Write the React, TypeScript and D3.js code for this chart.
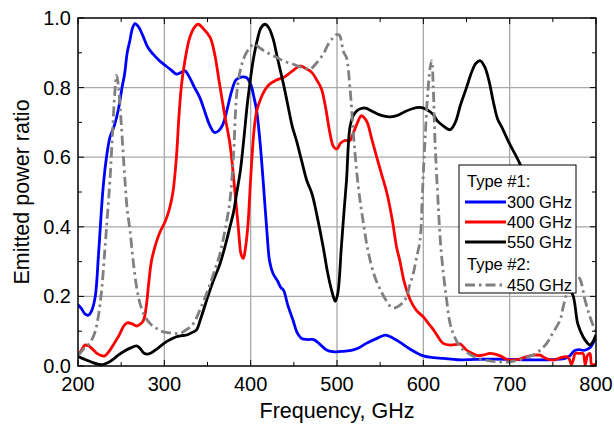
import * as d3 from 'd3';

// emitted power ratio vs frequency (GHz)
const s300: [number, number][] = [
  [200, 0.176], [204, 0.165], [208, 0.15], [212, 0.146], [216, 0.16], [220, 0.2], [224, 0.33], [229, 0.51],
  [233, 0.6], [237, 0.657], [242, 0.69], [247, 0.74], [251, 0.8], [254, 0.84], [257, 0.9], [260, 0.934],
  [263, 0.97], [266, 0.984], [270, 0.975], [275, 0.95], [281, 0.915], [287, 0.896], [294, 0.878], [302, 0.862],
  [308, 0.85], [314, 0.839], [319, 0.843], [324, 0.848], [329, 0.83], [335, 0.8], [341, 0.772], [347, 0.73],
  [352, 0.695], [358, 0.671], [363, 0.676], [368, 0.695], [373, 0.74], [378, 0.79], [383, 0.822], [389, 0.83],
  [395, 0.829], [400, 0.81], [404, 0.77], [407, 0.733], [411, 0.64], [415, 0.514], [419, 0.38], [422, 0.3],
  [426, 0.265], [431, 0.245], [435, 0.225], [438, 0.218], [443, 0.175], [449, 0.132], [454, 0.095], [459, 0.079],
  [466, 0.076], [473, 0.076], [480, 0.063], [488, 0.046], [495, 0.041], [505, 0.042], [515, 0.044], [525, 0.052],
  [534, 0.065], [545, 0.078], [556, 0.089], [565, 0.08], [573, 0.068], [585, 0.048], [600, 0.029], [612, 0.024],
  [623, 0.022], [640, 0.018], [660, 0.019], [680, 0.02], [700, 0.019], [720, 0.018], [745, 0.018], [764, 0.022],
  [770, 0.03], [775, 0.044], [780, 0.047], [786, 0.045], [790, 0.048], [794, 0.055], [797, 0.068], [800, 0.085],
];

const s400: [number, number][] = [
  [200, 0.03], [204, 0.045], [208, 0.06], [212, 0.058], [217, 0.048], [222, 0.036], [227, 0.03], [231, 0.029],
  [236, 0.042], [242, 0.065], [248, 0.09], [253, 0.115], [257, 0.124], [262, 0.122], [268, 0.115], [272, 0.12],
  [276, 0.132], [279, 0.17], [282, 0.24], [285, 0.3], [290, 0.35], [295, 0.385], [301, 0.415], [306, 0.452],
  [310, 0.5], [314, 0.6], [317, 0.72], [320, 0.81], [324, 0.88], [329, 0.94], [334, 0.97], [339, 0.982],
  [345, 0.97], [353, 0.944], [358, 0.9], [364, 0.81], [370, 0.72], [376, 0.638], [382, 0.495], [386, 0.39],
  [389, 0.32], [391.5, 0.309], [394, 0.34], [397, 0.41], [399, 0.495], [401, 0.58], [404, 0.68], [407, 0.733],
  [412, 0.77], [417, 0.795], [422, 0.81], [430, 0.822], [438, 0.829], [447, 0.845], [457, 0.862], [464, 0.855],
  [471, 0.843], [477, 0.82], [482, 0.796], [487, 0.74], [492, 0.667], [496, 0.63], [500, 0.624], [504, 0.64],
  [509, 0.648], [515, 0.648], [519, 0.67], [523, 0.695], [528, 0.719], [531, 0.715], [535, 0.7], [540, 0.655],
  [546, 0.6], [552, 0.548], [558, 0.495], [564, 0.42], [569, 0.342], [573, 0.3], [578, 0.24], [585, 0.189],
  [592, 0.16], [600, 0.141], [606, 0.122], [612, 0.103], [618, 0.08], [623, 0.065], [631, 0.06], [639, 0.062],
  [643, 0.063], [650, 0.046], [657, 0.036], [663, 0.03], [670, 0.032], [677, 0.036], [683, 0.034], [689, 0.029],
  [695, 0.021], [700, 0.017], [710, 0.019], [720, 0.027], [728, 0.031], [735, 0.031], [742, 0.022], [750, 0.017],
  [758, 0.023], [766, 0.027], [769, 0.02], [771.5, 0.004], [774, 0.02], [776, 0.036], [781, 0.036], [785, 0.036],
  [787.5, 0.004], [790, 0.03], [793, 0.036], [795, 0.004], [798, 0.004], [800, 0.004],
];

const s550: [number, number][] = [
  [200, 0.027], [205, 0.022], [211, 0.016], [218, 0.009], [224, 0.005], [229, 0.004], [235, 0.01], [241, 0.02],
  [247, 0.032], [254, 0.043], [261, 0.052], [268, 0.058], [272, 0.05], [276, 0.038], [280, 0.034], [285, 0.038],
  [292, 0.05], [300, 0.066], [307, 0.076], [314, 0.084], [320, 0.087], [326, 0.089], [331, 0.095], [337, 0.103],
  [342, 0.135], [349, 0.189], [356, 0.24], [364.5, 0.294], [371, 0.35], [376, 0.4], [380, 0.44], [384, 0.5],
  [388, 0.56], [392, 0.65], [396, 0.75], [399, 0.81], [403, 0.88], [408, 0.94], [412, 0.972], [416.6, 0.982],
  [421, 0.972], [426, 0.94], [431, 0.885], [438, 0.81], [443, 0.75], [448, 0.69], [453, 0.648], [459, 0.59],
  [465, 0.533], [471, 0.495], [477, 0.43], [484, 0.342], [489, 0.27], [494, 0.215], [498, 0.186], [501, 0.21],
  [505, 0.34], [508, 0.44], [511, 0.533], [515, 0.686], [519, 0.72], [523, 0.733], [528, 0.74], [533, 0.741],
  [540, 0.733], [548, 0.723], [556, 0.717], [562, 0.716], [570, 0.72], [578, 0.73], [588, 0.74], [596, 0.743],
  [603, 0.738], [611, 0.724], [616, 0.705], [623, 0.69], [631, 0.679], [637, 0.7], [643, 0.75], [650, 0.8],
  [656, 0.845], [661, 0.87], [666, 0.877], [671, 0.86], [676, 0.82], [681, 0.76], [686, 0.71], [691, 0.686],
  [700, 0.638], [706, 0.61], [712, 0.58], [720, 0.53], [730, 0.46], [740, 0.39], [750, 0.33], [760, 0.27],
  [767, 0.235], [773.7, 0.2], [779, 0.12], [785, 0.084], [790, 0.066], [793, 0.06], [796, 0.068], [800, 0.09],
];

const s450: [number, number][] = [
  [200, 0.03], [207, 0.05], [214, 0.067], [220, 0.1], [224, 0.15], [227.4, 0.218], [231, 0.33], [234, 0.43],
  [237, 0.533], [240, 0.67], [242.5, 0.78], [244.8, 0.836], [247, 0.8], [250, 0.7], [254.4, 0.533], [257, 0.45],
  [260.2, 0.39], [264, 0.3], [268, 0.225], [271.8, 0.18], [277, 0.145], [283.4, 0.122], [291, 0.108], [298.8, 0.098],
  [308, 0.095], [318.2, 0.094], [326, 0.105], [333.6, 0.122], [341, 0.16], [349, 0.208], [357, 0.265], [364.5, 0.323],
  [371, 0.4], [376, 0.476], [380, 0.6], [383.8, 0.781], [388, 0.85], [393, 0.89], [399, 0.915], [404, 0.925],
  [410, 0.915], [416, 0.905], [422.4, 0.896], [430, 0.887], [438, 0.877], [449.4, 0.867], [459, 0.858], [468.7, 0.853],
  [476, 0.87], [484, 0.896], [490, 0.925], [495.7, 0.944], [500, 0.953], [503, 0.95], [506, 0.92], [508, 0.9],
  [511, 0.886], [515, 0.8], [519, 0.667], [524.7, 0.514], [530, 0.42], [536, 0.33], [544, 0.255], [552, 0.21],
  [557, 0.188], [563.4, 0.168], [568, 0.168], [573, 0.175], [577, 0.185], [580.7, 0.199], [584, 0.23], [588.4, 0.266],
  [592, 0.31], [596.2, 0.361], [599, 0.5], [601.9, 0.648], [605, 0.78], [608, 0.86], [609.7, 0.877], [611.5, 0.8],
  [613.5, 0.648], [617.4, 0.456], [620, 0.35], [623.2, 0.266], [627, 0.19], [631, 0.122], [636, 0.085], [642.5, 0.055],
  [650, 0.04], [657.9, 0.028], [665, 0.02], [673.4, 0.016], [687, 0.012], [700.4, 0.012], [714, 0.02], [727.5, 0.032],
  [735, 0.045], [742.9, 0.065], [750, 0.095], [758.4, 0.132], [762, 0.17], [766, 0.208], [770, 0.235], [774, 0.25],
  [778, 0.258], [781.5, 0.25], [787.3, 0.189], [793.1, 0.141], [798.9, 0.103], [800, 0.098],
];

const xTicks = [200, 300, 400, 500, 600, 700, 800];
const xMinor = [250, 350, 450, 550, 650, 750];
const yTicks = [0, 0.2, 0.4, 0.6, 0.8, 1.0];
const yMinor = [0.1, 0.3, 0.5, 0.7, 0.9];

const FONT = '"Liberation Sans", Arial, sans-serif';

const left = 78, right = 596, top = 18, bottom = 366;

const App = () => {
  const x = d3.scaleLinear().domain([200, 800]).range([left, right]);
  const y = d3.scaleLinear().domain([0, 1]).range([bottom, top]);

  const line = d3.line<[number, number]>()
    .x(d => x(d[0]))
    .y(d => y(d[1]))
    .curve(d3.curveCatmullRom.alpha(0.5));

  const series = [
    { data: s300, color: '#0000ff', dash: undefined },
    { data: s400, color: '#ff0000', dash: undefined },
    { data: s550, color: '#000000', dash: undefined },
    { data: s450, color: '#808080', dash: '10,4,2.5,4' },
  ];

  const legendItems = [
    { kind: 'head', label: 'Type #1:', yy: 187 },
    { kind: 'line', label: '300 GHz', yy: 208, color: '#0000ff' },
    { kind: 'line', label: '400 GHz', yy: 228, color: '#ff0000' },
    { kind: 'line', label: '550 GHz', yy: 248, color: '#000000' },
    { kind: 'head', label: 'Type #2:', yy: 270 },
    { kind: 'line', label: '450 GHz', yy: 291, color: '#808080', dash: '10,4,2.5,4' },
  ];

  return (
    <svg width={614} height={428} style={{ position: 'absolute', left: 0, top: 0, background: '#fff' }}
      fontFamily={FONT}>
      <defs>
        <clipPath id="plot">
          <rect x={left} y={top} width={right - left} height={bottom - top} />
        </clipPath>
      </defs>

      {/* grid */}
      {xTicks.slice(1, -1).map(t => (
        <line key={'gx' + t} x1={x(t)} x2={x(t)} y1={top} y2={bottom} stroke="#a8a8a8" strokeWidth={1.3} />
      ))}
      {yTicks.slice(1, -1).map(t => (
        <line key={'gy' + t} x1={left} x2={right} y1={y(t)} y2={y(t)} stroke="#a8a8a8" strokeWidth={1.3} />
      ))}

      {/* curves */}
      <g clipPath="url(#plot)">
        {series.map((s, i) => (
          <path key={i} d={line(s.data) || ''} fill="none" stroke={s.color} strokeWidth={2.8}
            strokeDasharray={s.dash} strokeLinejoin="round" />
        ))}
      </g>

      {/* ticks, inside on all sides */}
      <g stroke="#000" strokeWidth={1}>
        {xTicks.map(t => (
          <g key={'tx' + t}>
            <line x1={x(t)} x2={x(t)} y1={bottom} y2={bottom - 6} />
            <line x1={x(t)} x2={x(t)} y1={top} y2={top + 6} />
          </g>
        ))}
        {xMinor.map(t => (
          <g key={'mx' + t}>
            <line x1={x(t)} x2={x(t)} y1={bottom} y2={bottom - 4} />
            <line x1={x(t)} x2={x(t)} y1={top} y2={top + 4} />
          </g>
        ))}
        {yTicks.map(t => (
          <g key={'ty' + t}>
            <line x1={left} x2={left + 6} y1={y(t)} y2={y(t)} />
            <line x1={right} x2={right - 6} y1={y(t)} y2={y(t)} />
          </g>
        ))}
        {yMinor.map(t => (
          <g key={'my' + t}>
            <line x1={left} x2={left + 4} y1={y(t)} y2={y(t)} />
            <line x1={right} x2={right - 4} y1={y(t)} y2={y(t)} />
          </g>
        ))}
      </g>
      <rect x={left} y={top} width={right - left} height={bottom - top} fill="none" stroke="#000" strokeWidth={1.5} />

      {/* tick labels */}
      {xTicks.map(t => (
        <text key={'lx' + t} x={x(t)} y={391} textAnchor="middle" fontSize={20}>{t}</text>
      ))}
      {yTicks.map(t => (
        <text key={'ly' + t} x={71} y={y(t) + 7} textAnchor="end" fontSize={20}>{t.toFixed(1)}</text>
      ))}

      {/* axis titles */}
      <text x={(left + right) / 2} y={418} textAnchor="middle" fontSize={21.5}>Frequency, GHz</text>
      <text transform={`translate(29,${(top + bottom) / 2}) rotate(-90)`} textAnchor="middle" fontSize={21.5}>
        Emitted power ratio
      </text>

      {/* legend */}
      <rect x={459} y={165} width={117} height={128} fill="#fff" stroke="#000" strokeWidth={1} />
      {legendItems.map(it => (
        <g key={it.label}>
          {it.kind === 'line' && (
            <line x1={465} x2={506} y1={it.yy - 6} y2={it.yy - 6} stroke={it.color} strokeWidth={2.8}
              strokeDasharray={it.dash} />
          )}
          <text x={it.kind === 'head' ? 467 : 507} y={it.yy} fontSize={16.5}>{it.label}</text>
        </g>
      ))}
    </svg>
  );
};

export default App;
